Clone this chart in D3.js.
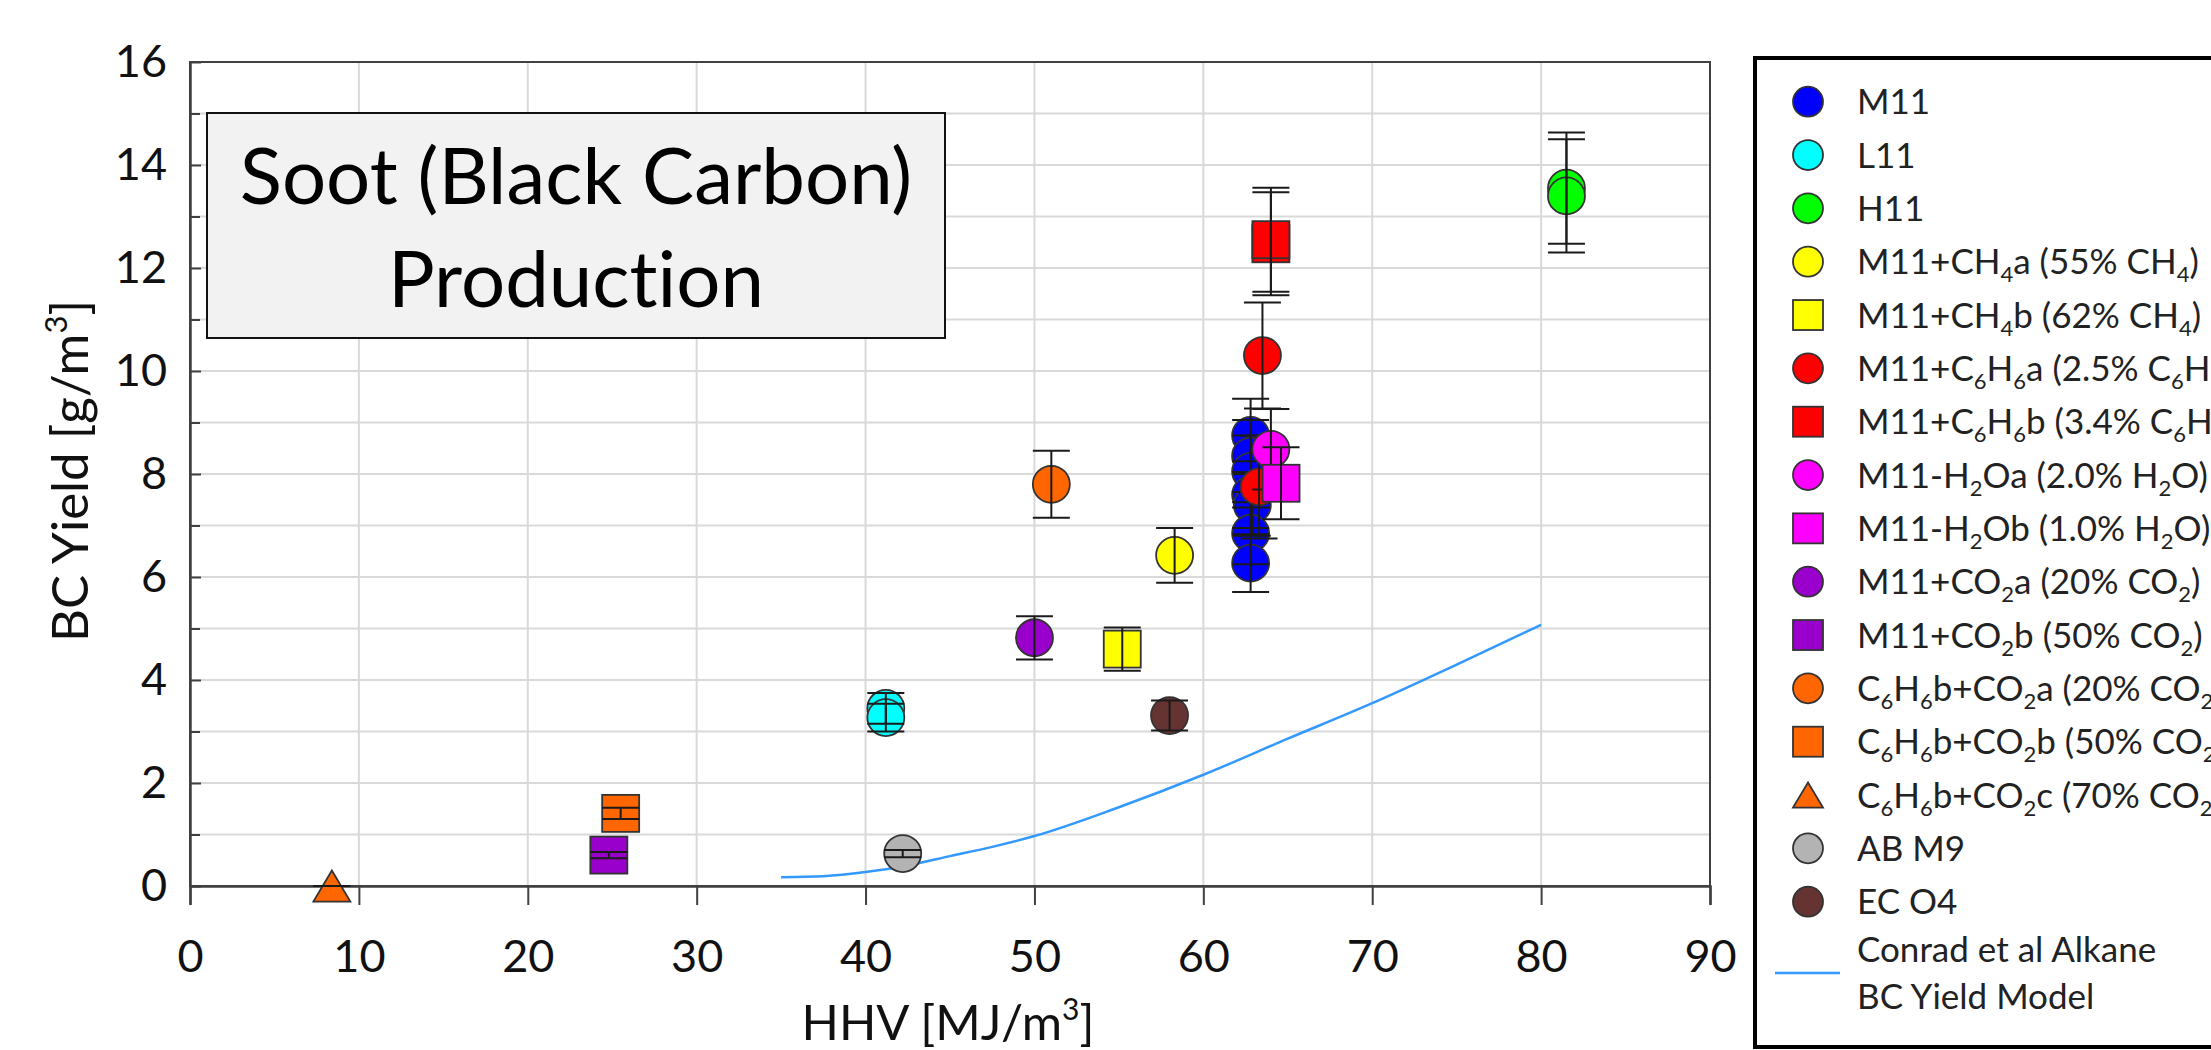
<!DOCTYPE html>
<html>
<head>
<meta charset="utf-8">
<script src="https://cdn.jsdelivr.net/npm/d3@7"></script>
<style>
  body { margin: 0; background: #fff; }
  svg { display: block; font-family: Lato, "Open Sans", sans-serif; font-variant-ligatures: none; }
</style>
</head>
<body>
<svg id="chart" width="2211" height="1050"></svg>
<script>
// ── Data (HHV [MJ/m3], BC yield [g/m3], +/- error) ──
const xTickValues = [0, 10, 20, 30, 40, 50, 60, 70, 80, 90];
const yTickValues = [0, 2, 4, 6, 8, 10, 12, 14, 16];
const yMinorValues = [1, 3, 5, 7, 9, 11, 13, 15];

const m11 = [[62.8, 8.75, 0.71], [62.8, 8.35, 0.7], [62.8, 8.05, 0.7], [62.8, 7.6, 0.65], [62.9, 7.4, 0.6], [62.8, 6.85, 0.6], [62.8, 6.27, 0.56]];
const l11 = [[41.2, 3.45, 0.3], [41.2, 3.27, 0.27]];
const h11 = [[81.5, 13.55, 1.08], [81.5, 13.4, 1.1]];
const ch4a = [[58.3, 6.42, 0.53]];
const ch4b = [[55.2, 4.6, 0.42]];
const c6h6a = [[63.5, 10.3, 1.03], [63.3, 7.75, 1.0]];
const c6h6b = [[64.0, 12.47, 1.0], [64.0, 12.55, 1.01]];
const h2oa = [[64.0, 8.48, 0.78]];
const h2ob = [[64.6, 7.82, 0.7]];
const co2a = [[50.0, 4.82, 0.42]];
const co2b = [[24.8, 0.6, 0.06]];
const c6co2a = [[51.0, 7.8, 0.65]];
const c6co2b = [[25.5, 1.41, 0.11]];
const c6co2c = [[8.4, 0.0, 0.0]];
const abm9 = [[42.2, 0.63, 0.07]];
const eco4 = [[58.0, 3.31, 0.29]];

// Conrad et al alkane model curve
const modelHHV = [35, 37.5, 40, 42.5, 45, 47.5, 50, 55, 60, 65, 70, 75, 80];
const modelBC = [0.17, 0.19, 0.27, 0.4, 0.58, 0.76, 0.97, 1.53, 2.16, 2.86, 3.55, 4.3, 5.07];

const seriesNames = [
  'M11', 'L11', 'H11', 'M11+CH_4a (55% CH_4)', 'M11+CH_4b (62% CH_4)',
  'M11+C_6H_6a (2.5% C_6H_6)', 'M11+C_6H_6b (3.4% C_6H_6)',
  'M11-H_2Oa (2.0% H_2O)', 'M11-H_2Ob (1.0% H_2O)',
  'M11+CO_2a (20% CO_2)', 'M11+CO_2b (50% CO_2)',
  'C_6H_6b+CO_2a (20% CO_2)', 'C_6H_6b+CO_2b (50% CO_2)', 'C_6H_6b+CO_2c (70% CO_2)',
  'AB M9', 'EC O4'
];
const seriesData = [m11, l11, h11, ch4a, ch4b, c6h6a, c6h6b, h2oa, h2ob, co2a, co2b, c6co2a, c6co2b, c6co2c, abm9, eco4];

// ── Styles ──
const seriesColors = ['#0000ff', '#00ffff', '#00ff00', '#ffff00', '#ffff00', '#ff0000', '#ff0000',
  '#ff00ff', '#ff00ff', '#9900cc', '#9900cc', '#ff6600', '#ff6600', '#ff6600', '#b3b3b3', '#663333'];
const seriesShapes = ['circle', 'circle', 'circle', 'circle', 'square', 'circle', 'square',
  'circle', 'square', 'circle', 'square', 'circle', 'square', 'triangle', 'circle', 'circle'];
const modelColor = '#3399ff';

const svg = d3.select('#chart');
svg.append('rect').attr('width', 2211).attr('height', 1050).attr('fill', '#fff');

const plot = { left: 190, right: 1710, top: 62, bottom: 886 };
const x = d3.scaleLinear().domain([0, 90]).range([plot.left, plot.right]);
const y = d3.scaleLinear().domain([0, 16]).range([plot.bottom, plot.top]);

// Grid
const grid = svg.append('g').attr('stroke', '#d9d9d9').attr('stroke-width', 2);
grid.selectAll('.gx').data(xTickValues.slice(1, -1)).enter().append('line')
  .attr('x1', d => x(d)).attr('x2', d => x(d)).attr('y1', plot.top).attr('y2', plot.bottom);
grid.selectAll('.gy').data(d3.range(1, 16)).enter().append('line')
  .attr('y1', d => y(d)).attr('y2', d => y(d)).attr('x1', plot.left).attr('x2', plot.right);

// Plot frame
svg.append('rect')
  .attr('x', plot.left).attr('y', plot.top)
  .attr('width', plot.right - plot.left).attr('height', plot.bottom - plot.top)
  .attr('fill', 'none').attr('stroke', '#404040').attr('stroke-width', 2);

// Axes
const xAxis = svg.append('g')
  .attr('transform', `translate(0,${plot.bottom})`)
  .call(d3.axisBottom(x).tickValues(xTickValues).tickSize(19).tickPadding(35).tickFormat(d3.format('d')));
const yAxis = svg.append('g')
  .attr('transform', `translate(${plot.left},0)`)
  .call(d3.axisLeft(y).tickValues(yTickValues).tickSizeInner(-11).tickSizeOuter(0).tickPadding(23).tickFormat(d3.format('d')));
svg.append('g')
  .attr('transform', `translate(${plot.left},0)`)
  .call(d3.axisLeft(y).tickValues(yMinorValues).tickSizeInner(-10).tickSizeOuter(0).tickFormat(''))
  .call(g => g.select('.domain').remove())
  .call(g => g.selectAll('text').remove());

svg.selectAll('.tick line').attr('stroke', '#404040').attr('stroke-width', 2);
svg.selectAll('.domain').attr('stroke', '#404040').attr('stroke-width', 2.5);
[xAxis, yAxis].forEach(a => a.selectAll('text')
  .attr('font-family', 'Lato, sans-serif').attr('font-size', 45).attr('fill', '#111'));

// Axis titles
const xTitle = svg.append('text')
  .attr('x', 948).attr('y', 1040).attr('text-anchor', 'middle')
  .attr('font-size', 49).attr('fill', '#111');
xTitle.append('tspan').text('HHV [MJ/m');
xTitle.append('tspan').attr('font-size', 30).attr('dy', -20).text('3');
xTitle.append('tspan').attr('dy', 20).text(']');

const yTitle = svg.append('text')
  .attr('transform', 'translate(88,471) rotate(-90)')
  .attr('text-anchor', 'middle').attr('font-size', 51).attr('fill', '#111');
yTitle.append('tspan').text('BC Yield [g/m');
yTitle.append('tspan').attr('font-size', 31).attr('dy', -21).text('3');
yTitle.append('tspan').attr('dy', 21).text(']');

// Model curve
const line = d3.line()
  .x(d => x(d[0]))
  .y(d => y(d[1]))
  .curve(d3.curveMonotoneX);
svg.append('path')
  .datum(modelHHV.map((h, i) => [h, modelBC[i]]))
  .attr('fill', 'none').attr('stroke', modelColor).attr('stroke-width', 2.5)
  .attr('d', line);

// Markers
function drawMarker(g, shape, cx, cy, size, color) {
  const s = size;
  let m;
  if (shape === 'circle') {
    m = g.append('circle').attr('cx', cx).attr('cy', cy).attr('r', s / 2);
  } else if (shape === 'square') {
    m = g.append('rect').attr('x', cx - s / 2).attr('y', cy - s / 2).attr('width', s).attr('height', s);
  } else {
    const h = s * 0.84;
    m = g.append('path').attr('d', `M${cx},${cy - h / 2}L${cx + s / 2},${cy + h / 2}L${cx - s / 2},${cy + h / 2}Z`);
  }
  m.attr('fill', color).attr('stroke', '#333').attr('stroke-width', 1.8);
}

const capW = 37;
seriesData.forEach((pts, si) => {
  const g = svg.append('g');
  pts.forEach(p => drawMarker(g, seriesShapes[si], x(p[0]), y(p[1]), 37, seriesColors[si]));
  const eb = g.append('g').attr('stroke', '#1a1a1a').attr('stroke-width', 2);
  pts.forEach(p => {
    const px = x(p[0]), lo = y(p[1] - p[2]), hi = y(p[1] + p[2]);
    eb.append('line').attr('x1', px).attr('x2', px).attr('y1', lo).attr('y2', hi);
    eb.append('line').attr('x1', px - capW / 2).attr('x2', px + capW / 2).attr('y1', lo).attr('y2', lo);
    eb.append('line').attr('x1', px - capW / 2).attr('x2', px + capW / 2).attr('y1', hi).attr('y2', hi);
  });
});

// Title box
svg.append('rect')
  .attr('x', 207).attr('y', 113).attr('width', 738).attr('height', 225)
  .attr('fill', '#f2f2f2').attr('stroke', '#111').attr('stroke-width', 2);
svg.append('text').attr('x', 576).attr('y', 204).attr('text-anchor', 'middle')
  .attr('font-size', 78).attr('fill', '#000').text('Soot (Black Carbon)');
svg.append('text').attr('x', 576).attr('y', 307).attr('text-anchor', 'middle')
  .attr('font-size', 78).attr('fill', '#000').text('Production');

// Legend
function addRichText(textSel, label) {
  let shift = 0;
  label.split(/(_\d)/).filter(s => s.length).forEach(part => {
    if (part[0] === '_') {
      textSel.append('tspan').attr('font-size', 22).attr('dy', 8 - shift).text(part[1]);
      shift = 8;
    } else {
      textSel.append('tspan').attr('dy', -shift).text(part);
      shift = 0;
    }
  });
}

const legend = svg.append('g');
legend.append('rect')
  .attr('x', 1755).attr('y', 58).attr('width', 520).attr('height', 989)
  .attr('fill', '#fff').attr('stroke', '#000').attr('stroke-width', 4);

const legY = d3.scaleLinear().domain([0, 15]).range([101.7, 901.7]);
seriesNames.forEach((name, i) => {
  const cy = legY(i);
  drawMarker(legend, seriesShapes[i], 1808, cy, 30, seriesColors[i]);
  const t = legend.append('text').attr('x', 1857).attr('y', cy + 12.5)
    .attr('font-size', 35).attr('fill', '#222');
  addRichText(t, name);
});
legend.append('line')
  .attr('x1', 1775).attr('x2', 1840).attr('y1', 973).attr('y2', 973)
  .attr('stroke', modelColor).attr('stroke-width', 2.5);
legend.append('text').attr('x', 1857).attr('y', 962).attr('font-size', 35).attr('fill', '#222')
  .text('Conrad et al Alkane');
legend.append('text').attr('x', 1857).attr('y', 1009).attr('font-size', 35).attr('fill', '#222')
  .text('BC Yield Model');
</script>
</body>
</html>
